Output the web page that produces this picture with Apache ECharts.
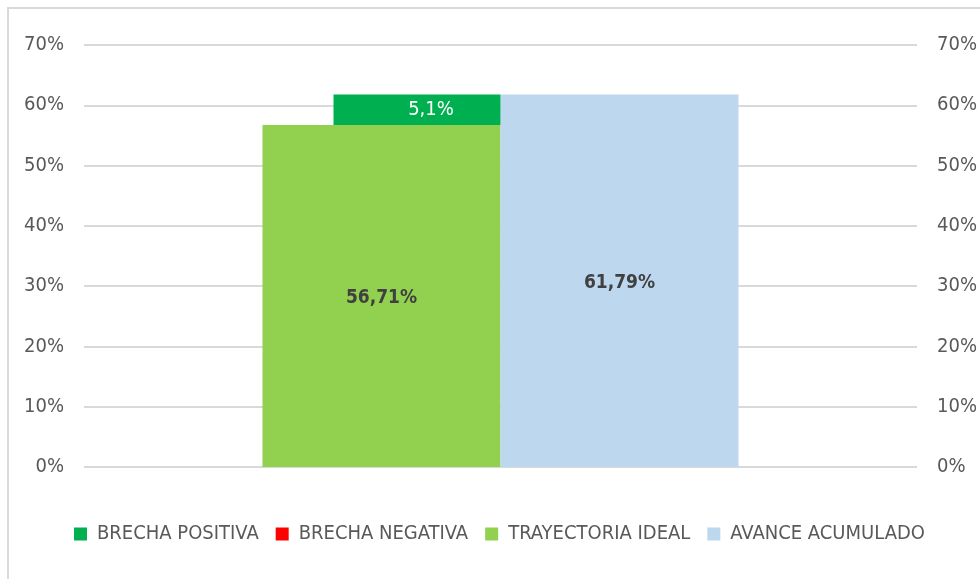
<!DOCTYPE html>
<html>
<head>
<meta charset="utf-8">
<script src="https://cdn.jsdelivr.net/npm/echarts@6/dist/echarts.min.js"></script>
<style>html,body{margin:0;padding:0;background:#fff;overflow:hidden}#c{width:980px;height:579px}</style>
</head>
<body>
<div id="c"></div>
<script>
// Data
const categories = [''];
const seriesNames = ['BRECHA POSITIVA', 'BRECHA NEGATIVA', 'TRAYECTORIA IDEAL', 'AVANCE ACUMULADO'];
const trayectoriaIdeal = [56.71];
const avanceAcumulado = [61.79];
const brechaPositiva = [5.08];
const brechaNegativa = [0];
const yTicks = [0, 10, 20, 30, 40, 50, 60, 70];

const FONT = "'Liberation Sans Narrow', 'DejaVu Sans Condensed', 'Noto Sans', sans-serif";
const fmtPct = (v, d) => v.toFixed(d).replace('.', ',') + '%';

const chart = echarts.init(document.getElementById('c'));
const yAxisCommon = {
  type: 'value', min: yTicks[0], max: yTicks[yTicks.length - 1], interval: 10,
  axisLine: { show: false }, axisTick: { show: false },
  axisLabel: { color: '#595959', fontSize: 20, fontFamily: FONT, margin: 20, formatter: v => v + '%' },
  splitLine: { show: true, lineStyle: { color: '#d9d9d9', width: 2 } }
};
chart.setOption({
  animation: false,
  backgroundColor: '#fff',
  graphic: [{
    type: 'rect', shape: { x: 8, y: 8, width: 1100, height: 700 },
    style: { fill: 'none', stroke: '#d9d9d9', lineWidth: 2 }, silent: true
  }],
  grid: { left: 84, right: 63, top: 45, bottom: 112, outerBoundsMode: 'none', containLabel: false },
  legend: {
    data: seriesNames.map(n => ({ name: n, icon: 'rect' })),
    left: 69, top: 519, itemWidth: 13, itemHeight: 13, itemGap: 17,
    textStyle: { color: '#595959', fontSize: 20, fontFamily: FONT, padding: [0, 0, 0, 5] }
  },
  xAxis: [
    { type: 'category', data: categories, axisLine: { show: false }, axisTick: { show: false }, axisLabel: { show: false } },
    { type: 'category', data: categories, show: false }
  ],
  yAxis: [
    Object.assign({}, yAxisCommon, { position: 'left' }),
    Object.assign({}, yAxisCommon, { position: 'right', splitLine: { show: false } })
  ],
  series: [
    {
      name: 'TRAYECTORIA IDEAL', type: 'bar', xAxisIndex: 0, yAxisIndex: 0,
      data: trayectoriaIdeal, barWidth: 238, barGap: '0%',
      itemStyle: { color: '#92D050' },
      label: { show: true, position: 'inside', offset: [0, 2], color: '#404040', fontSize: 19, fontWeight: 'bold', fontFamily: FONT,
        formatter: p => fmtPct(p.value, 2) }
    },
    {
      name: 'AVANCE ACUMULADO', type: 'bar', xAxisIndex: 0, yAxisIndex: 0,
      data: avanceAcumulado, barWidth: 238, barGap: '0%',
      itemStyle: { color: '#BDD7EE' },
      label: { show: true, position: 'inside', offset: [0, 2], color: '#404040', fontSize: 19, fontWeight: 'bold', fontFamily: FONT,
        formatter: p => fmtPct(p.value, 2) }
    },
    {
      name: 'base', type: 'bar', xAxisIndex: 1, yAxisIndex: 0, stack: 'b',
      data: trayectoriaIdeal, barWidth: 167, barGap: '0%',
      itemStyle: { color: 'rgba(0,0,0,0)' }, silent: true, z: 1
    },
    {
      name: 'BRECHA POSITIVA', type: 'bar', xAxisIndex: 1, yAxisIndex: 0, stack: 'b',
      data: brechaPositiva, barWidth: 167, barGap: '0%',
      itemStyle: { color: '#00B050' }, z: 3,
      label: { show: true, position: 'inside', color: '#ffffff', fontSize: 20, fontFamily: FONT, offset: [14, 0],
        formatter: p => fmtPct(p.value, 1) }
    },
    {
      name: 'BRECHA NEGATIVA', type: 'bar', xAxisIndex: 1, yAxisIndex: 0, stack: 'b',
      data: brechaNegativa, barWidth: 167, barGap: '0%',
      itemStyle: { color: '#FF0000' }
    },
    {
      name: 'dummy', type: 'bar', xAxisIndex: 1, yAxisIndex: 0, stack: 'd',
      data: [0], barWidth: 167, barGap: '0%',
      itemStyle: { color: 'rgba(0,0,0,0)' }, silent: true
    }
  ]
});
</script>
</body>
</html>
